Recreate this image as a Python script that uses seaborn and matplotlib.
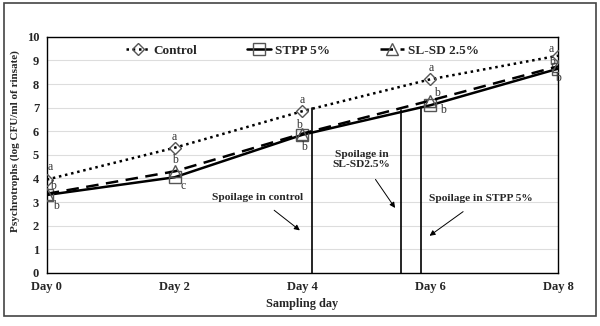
import matplotlib
matplotlib.use("Agg")
import matplotlib.pyplot as plt
import seaborn as sns
import pandas as pd
from matplotlib.patches import Rectangle

sns.set_style("white")
plt.rcParams['font.family'] = ['Liberation Serif', 'DejaVu Serif']

days = [0, 2, 4, 6, 8]
day_labels = ["Day 0", "Day 2", "Day 4", "Day 6", "Day 8"]
control = [3.95, 5.3, 6.85, 8.2, 9.2]
stpp = [3.3, 4.05, 5.85, 7.1, 8.65]
slsd = [3.35, 4.3, 5.9, 7.3, 8.75]

letters_control = ["a", "a", "a", "a", "a"]
letters_slsd = ["b", "b", "b", "b", "b"]
letters_stpp = ["b", "c", "b", "b", "b"]

spoil_days = [4.15, 5.55, 5.85]
spoil_tops = [7.0, 6.9, 7.03]

fig = plt.figure(figsize=(6.0, 3.26), dpi=100)
ax = fig.add_axes([0.078, 0.163, 0.852, 0.724])

df = pd.DataFrame({
    "day": days * 3,
    "value": control + stpp + slsd,
    "series": ["Control"] * 5 + ["STPP 5%"] * 5 + ["SL-SD 2.5%"] * 5,
})

styles = {
    "Control": dict(ls=(0, (1, 1.5)), lw=1.8, marker="D", ms=6),
    "STPP 5%": dict(ls="-", lw=1.8, marker="s", ms=8),
    "SL-SD 2.5%": dict(ls=(0, (5, 3)), lw=1.8, marker="^", ms=8),
}
for name, st in styles.items():
    sub = df[df["series"] == name]
    sns.lineplot(data=sub, x="day", y="value", ax=ax, color="black",
                 linestyle=st["ls"], linewidth=st["lw"], marker=st["marker"],
                 markersize=st["ms"], markerfacecolor="none",
                 markeredgecolor="#555555", markeredgewidth=1.0,
                 label=name, zorder=3)

# spoilage lines
for d, t in zip(spoil_days, spoil_tops):
    ax.plot([d, d], [0, t], color="black", lw=1.2, zorder=2)

# letters
lf = dict(fontsize=8.5, color="#333333", family="Liberation Serif")
offs_c = [(0.05, 0.55), (0.0, 0.46), (0.0, 0.48), (0.02, 0.5), (-0.1, 0.28)]
offs_s = [(0.1, 0.34), (0.0, 0.5), (-0.05, 0.37), (0.1, 0.3), (-0.1, 0.2)]
offs_p = [(0.15, -0.46), (0.13, -0.36), (0.02, -0.5), (0.2, -0.2), (0.0, -0.4)]
for i, d in enumerate(days):
    ax.text(d + offs_c[i][0], control[i] + offs_c[i][1], letters_control[i], ha="center", va="center", **lf)
    ax.text(d + offs_s[i][0], slsd[i] + offs_s[i][1], letters_slsd[i], ha="center", va="center", **lf)
    ax.text(d + offs_p[i][0], stpp[i] + offs_p[i][1], letters_stpp[i], ha="center", va="center", **lf)

# annotations
af = dict(fontsize=8.2, fontweight="bold", ha="center", va="center")
ap = dict(arrowstyle="-|>", color="black", lw=0.7, mutation_scale=8, shrinkA=6, shrinkB=0)
ax.annotate("Spoilage in control", xy=(3.96, 1.8), xytext=(3.3, 3.2), arrowprops=ap, **af)
ax.annotate("Spoilage in\nSL-SD2.5%", xy=(5.45, 2.75), xytext=(4.93, 4.8), arrowprops=ap, **af)
ax.annotate("Spoilage in STPP 5%", xy=(5.99, 1.57), xytext=(6.79, 3.13), arrowprops=ap, **af)

ax.set_xlim(0, 8)
ax.set_ylim(0, 10)
ax.set_xticks(days)
ax.set_xticklabels(day_labels, fontsize=9, fontweight="bold")
ax.set_yticks(range(0, 11))
ax.set_yticklabels([str(v) for v in range(0, 11)], fontsize=9, fontweight="bold")
ax.yaxis.grid(True, color="#dddddd", lw=0.8)
ax.set_axisbelow(True)
for s in ax.spines.values():
    s.set_color("black")
    s.set_linewidth(1.0)
ax.tick_params(axis="both", direction="inout", length=5, width=1, color="#555555", pad=3)
ax.set_xlabel("Sampling day", fontsize=8.8, fontweight="bold", labelpad=4)
ax.set_ylabel("Psychrotrophs (log CFU/ml of rinsate)", fontsize=8, fontweight="bold")
ax.yaxis.set_label_coords(-0.053, 0.56)

leg = ax.legend(loc="upper center", ncol=3, frameon=False,
                prop={"weight": "bold", "size": 9.5}, handlelength=1.8,
                handletextpad=0.3, columnspacing=3.8,
                bbox_to_anchor=(0.5, 1.0), borderaxespad=0.2)

fig.patches.append(Rectangle((0.006, 0.03), 0.988, 0.96, transform=fig.transFigure,
                             fill=False, edgecolor="#444444", lw=1.2))

fig.savefig("out.png", dpi=100)
